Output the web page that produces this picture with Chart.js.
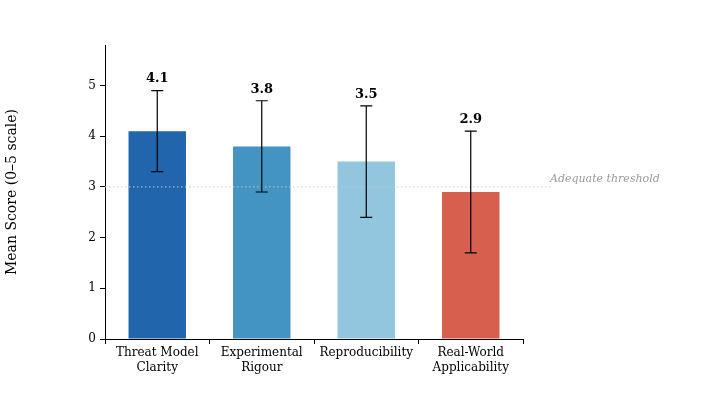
<!DOCTYPE html>
<html><head><meta charset="utf-8">
<script src="https://cdn.jsdelivr.net/npm/chart.js@4"></script>
<style>html,body{margin:0;background:#fff}#c{display:block}</style>
</head><body>
<canvas id="c" width="718" height="417"></canvas>
<script>
const categories = [['Threat Model', 'Clarity'], ['Experimental', 'Rigour'], 'Reproducibility', ['Real-World', 'Applicability']];
const meanScores = [4.1, 3.8, 3.5, 2.9];
const errLow = [3.3, 2.9, 2.4, 1.7];
const errHigh = [4.9, 4.7, 4.6, 4.1];
const barColors = ['#2166ac', '#4393c3', '#92c5de', '#d6604d'];
const threshold = 3;
const FONT = 'DejaVu Serif';

const overlay = {
  id: 'overlay',
  afterDatasetsDraw(chart) {
    const ctx = chart.ctx, x = chart.scales.x, y = chart.scales.y;
    ctx.save();
    // threshold line
    const ty = y.getPixelForValue(threshold);
    ctx.strokeStyle = '#c8c8c8'; ctx.lineWidth = 1; ctx.setLineDash([1.5, 2.5]);
    ctx.beginPath(); ctx.moveTo(x.left, ty); ctx.lineTo(x.right + 30, ty); ctx.stroke();
    ctx.setLineDash([]);
    ctx.fillStyle = '#999'; ctx.font = 'italic 11px ' + FONT;
    ctx.textAlign = 'left'; ctx.textBaseline = 'middle';
    ctx.fillText('Adequate threshold', x.right + 27, ty - 8);
    // error bars + labels
    meanScores.forEach((v, i) => {
      const cx = x.getPixelForValue(i);
      const lo = y.getPixelForValue(errLow[i]), hi = y.getPixelForValue(errHigh[i]);
      ctx.strokeStyle = '#000'; ctx.lineWidth = 1.2;
      ctx.beginPath();
      ctx.moveTo(cx, lo); ctx.lineTo(cx, hi);
      ctx.moveTo(cx - 6, lo); ctx.lineTo(cx + 6, lo);
      ctx.moveTo(cx - 6, hi); ctx.lineTo(cx + 6, hi);
      ctx.stroke();
      ctx.fillStyle = '#000'; ctx.font = 'bold 13px ' + FONT;
      ctx.textAlign = 'center'; ctx.textBaseline = 'bottom';
      ctx.fillText(v.toFixed(1), cx, hi - 5);
    });
    ctx.restore();
  }
};

new Chart(document.getElementById('c'), {
  type: 'bar',
  data: { labels: categories, datasets: [{ data: meanScores, backgroundColor: barColors, barPercentage: 0.55, categoryPercentage: 1 }] },
  options: {
    responsive: false, animation: false,
    layout: { padding: { left: 0, right: 195, top: 45, bottom: 0 } },
    plugins: { legend: { display: false }, tooltip: { enabled: false } },
    scales: {
      x: {
        afterFit(s) { s.height = 78; },
        grid: { drawOnChartArea: false, color: '#000', tickLength: 5 },
        border: { color: '#000' },
        ticks: { color: '#000', font: { family: FONT, size: 12 }, maxRotation: 0, padding: 2 }
      },
      y: {
        min: 0, max: 5.8,
        afterFit(s) { s.width = 105; },
        afterBuildTicks(s) { s.ticks = [0, 1, 2, 3, 4, 5].map(v => ({ value: v })); },
        grid: { drawOnChartArea: false, color: '#000', tickLength: 5 },
        border: { color: '#000' },
        ticks: { color: '#000', font: { family: FONT, size: 12 }, padding: 4 },
        title: { display: true, text: 'Mean Score (0–5 scale)', color: '#000', font: { family: FONT, size: 14 }, padding: { bottom: 8 } }
      }
    }
  },
  plugins: [overlay]
});
</script>
</body></html>
